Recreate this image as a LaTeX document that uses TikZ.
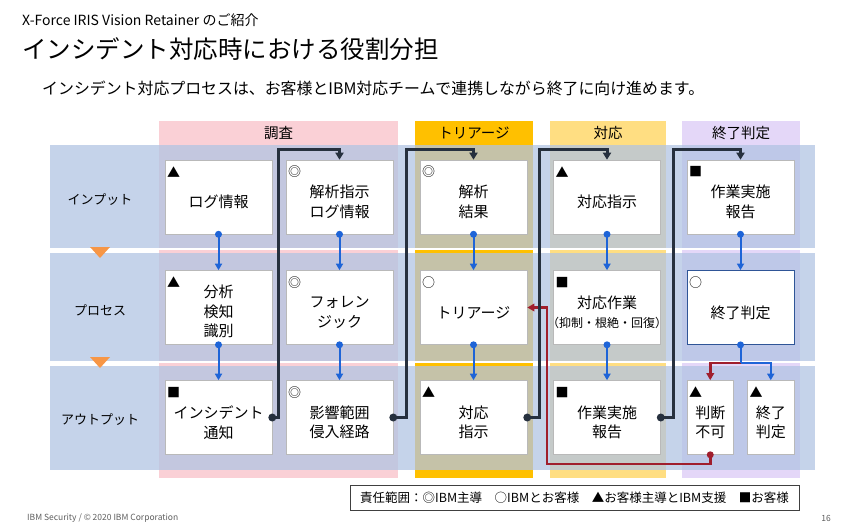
\documentclass[tikz,border=0pt]{standalone}
\usepackage{fontspec}
\setmainfont{Noto Sans CJK JP}
\usetikzlibrary{arrows.meta}
\definecolor{cpink}{RGB}{250,208,214}
\definecolor{cgold}{RGB}{255,192,0}
\definecolor{cyel}{RGB}{255,222,130}
\definecolor{clav}{RGB}{228,215,248}
\definecolor{crow}{RGB}{177,196,227}
\definecolor{cblue}{RGB}{30,100,215}
\definecolor{cdark}{RGB}{38,48,62}
\definecolor{cred}{RGB}{160,30,45}
\definecolor{corange}{RGB}{247,150,70}
\definecolor{cborder}{RGB}{185,185,185}
\definecolor{cnavy}{RGB}{47,85,151}
\definecolor{cfoot}{RGB}{95,95,95}
\begin{document}
\begin{tikzpicture}[x=1pt,y=-1pt,
  box/.style={draw=cborder, line width=0.6pt, fill=white, minimum width=107pt, minimum height=74pt, inner sep=0pt},
  narrowbox/.style={box, minimum width=46.5pt},
  boxtext/.style={align=center, inner sep=0pt, font=\fontsize{15}{19.5}\selectfont},
  boxmark/.style={inner sep=0pt, font=\fontsize{13}{13}\selectfont},
  hdr/.style={inner sep=0pt, font=\fontsize{14.5}{14.5}\selectfont},
  rowlabel/.style={inner sep=0pt, font=\fontsize{13}{13}\selectfont},
  rowband/.style={fill=crow, opacity=0.74},
  bconn/.style={draw=cblue, line width=2pt, -{Triangle[length=6.5pt,width=7pt]}},
  dconn/.style={draw=cdark, line width=3pt, -{Triangle[length=7pt,width=8pt]}},
  rconn/.style={draw=cred, line width=2.5pt, -{Triangle[length=7pt,width=7.5pt]}}
]
\useasboundingbox[fill=white] (0,0) rectangle (854,532);

% titles
\node[anchor=west, inner sep=0pt, font=\fontsize{14}{14}\selectfont] (t1) at (22,20) {X-Force IRIS Vision Retainer のご紹介};
\node[anchor=west, inner sep=0pt, font=\fontsize{24.5}{24.5}\selectfont] (t2) at (22,49) {インシデント対応時における役割分担};
\node[anchor=west, inner sep=0pt, font=\fontsize{15.9}{15.9}\selectfont] (t3) at (42,88) {インシデント対応プロセスは、お客様とIBM対応チームで連携しながら終了に向け進めます。};

% column stripes
\fill[cpink] (159,121) rectangle (398,478);
\fill[cgold] (415,121) rectangle (533,478);
\fill[cyel] (550,121) rectangle (666,478);
\fill[clav] (682,121) rectangle (800,478);
\node[hdr] (h1) at (278.5,133) {調査};
\node[hdr] (h2) at (474,133) {トリアージ};
\node[hdr] (h3) at (608,133) {対応};
\node[hdr] (h4) at (741,133) {終了判定};

% row bands
\fill[rowband] (50,145) rectangle (815,248);
\fill[rowband] (50,253) rectangle (815,361);
\fill[rowband] (50,366) rectangle (815,470);
\fill[white] (50,248) rectangle (815,250);
\fill[white] (50,361) rectangle (815,363);

% row labels
\node[rowlabel] (l1) at (100,200) {インプット};
\node[rowlabel] (l2) at (100,310) {プロセス};
\node[rowlabel] (l3) at (100,420) {アウトプット};
\fill[corange] (90,247) -- (110,247) -- (100,258) -- cycle;
\fill[corange] (90,357) -- (110,357) -- (100,368) -- cycle;

% boxes row 1
\node[box] (b11) at (218.5,197) {};
\node[box] (b12) at (339.5,197) {};
\node[box] (b13) at (473.5,197) {};
\node[box] (b14) at (607,197) {};
\node[box] (b15) at (740.5,197) {};
% boxes row 2
\node[box] (b21) at (218.5,307.5) {};
\node[box] (b22) at (339.5,307.5) {};
\node[box] (b23) at (473.5,307.5) {};
\node[box] (b24) at (607,307.5) {};
\node[box, draw=cnavy, line width=0.8pt] (b25) at (740.5,307.5) {};
% boxes row 3
\node[box] (b31) at (218.5,417.5) {};
\node[box] (b32) at (339.5,417.5) {};
\node[box] (b33) at (473.5,417.5) {};
\node[box] (b34) at (607,417.5) {};
\node[narrowbox] (b35a) at (710.25,417.5) {};
\node[narrowbox] (b35b) at (770.75,417.5) {};

% box texts
\node[boxtext] (x11) at ([yshift=-5pt]b11.center) {ログ情報};
\node[boxtext] (x12) at ([yshift=-5pt]b12.center) {解析指示\\ログ情報};
\node[boxtext] (x13) at ([yshift=-5pt]b13.center) {解析\\結果};
\node[boxtext] (x14) at ([yshift=-5pt]b14.center) {対応指示};
\node[boxtext] (x15) at ([yshift=-5pt]b15.center) {作業実施\\報告};
\node[boxtext] (x21) at ([yshift=-4pt]b21.center) {分析\\検知\\識別};
\node[boxtext] (x22) at ([yshift=-5pt]b22.center) {フォレン\\ジック};
\node[boxtext] (x23) at ([yshift=-5pt]b23.center) {トリアージ};
\node[boxtext] (x24) at ([yshift=-5pt]b24.center) {対応作業\\{\fontsize{12}{15}\selectfont （抑制・根絶・回復）}};
\node[boxtext] (x25) at ([yshift=-5pt]b25.center) {終了判定};
\node[boxtext] (x31) at ([yshift=-5pt]b31.center) {インシデント\\通知};
\node[boxtext] (x32) at ([yshift=-5pt]b32.center) {影響範囲\\侵入経路};
\node[boxtext] (x33) at ([yshift=-5pt]b33.center) {対応\\指示};
\node[boxtext] (x34) at ([yshift=-5pt]b34.center) {作業実施\\報告};
\node[boxtext] (x35a) at ([yshift=-5pt]b35a.center) {判断\\不可};
\node[boxtext] (x35b) at ([yshift=-5pt]b35b.center) {終了\\判定};

% markers
\node[boxmark] (m11) at ([shift={(9,12)}]b11.north west) {▲};
\node[boxmark] (m12) at ([shift={(9,12)}]b12.north west) {◎};
\node[boxmark] (m13) at ([shift={(9,12)}]b13.north west) {◎};
\node[boxmark] (m14) at ([shift={(9,12)}]b14.north west) {▲};
\node[boxmark] (m15) at ([shift={(9,12)}]b15.north west) {■};
\node[boxmark] (m21) at ([shift={(9,12)}]b21.north west) {▲};
\node[boxmark] (m22) at ([shift={(9,12)}]b22.north west) {◎};
\node[boxmark] (m23) at ([shift={(9,12)}]b23.north west) {○};
\node[boxmark] (m24) at ([shift={(9,12)}]b24.north west) {■};
\node[boxmark] (m25) at ([shift={(9,12)}]b25.north west) {○};
\node[boxmark] (m31) at ([shift={(9,12)}]b31.north west) {■};
\node[boxmark] (m32) at ([shift={(9,12)}]b32.north west) {◎};
\node[boxmark] (m33) at ([shift={(9,12)}]b33.north west) {▲};
\node[boxmark] (m34) at ([shift={(9,12)}]b34.north west) {■};
\node[boxmark] (m35a) at ([shift={(9,12)}]b35a.north west) {▲};
\node[boxmark] (m35b) at ([shift={(9,12)}]b35b.north west) {▲};

% blue vertical connectors
\foreach \a/\b in {b11/b21,b21/b31,b12/b22,b22/b32,b13/b23,b23/b33,b14/b24,b24/b34,b15/b25}{
  \draw[bconn] (\a.south) -- (\b.north);
  \fill[cblue] (\a.south) circle (3.5);
}

% split after 終了判定
\coordinate (j1) at (740.5,363);
\draw[rconn] (j1) -| (b35a.north);
\draw[bconn, -] (b25.south) -- (j1);
\draw[bconn] (j1) -| (b35b.north);
\fill[cblue] (b25.south) circle (3.5);

% red feedback connector
\coordinate (r1) at (547,464);
\draw[rconn] (b35a.south) |- (r1) |- (b23.east);
\fill[cred] (b35a.south) circle (3.5);

% dark connectors from outputs to next inputs
\coordinate (k1) at (278,150);
\coordinate (k2) at (406,150);
\coordinate (k3) at (539,150);
\coordinate (k4) at (673,150);
\draw[dconn] (b31.east) -- (b31.east -| k1) -- (k1) -| (b12.north);
\draw[dconn] (b32.east) -- (b32.east -| k2) -- (k2) -| (b13.north);
\draw[dconn] (b33.east) -- (b33.east -| k3) -- (k3) -| (b14.north);
\draw[dconn] (b34.east) -- (b34.east -| k4) -- (k4) -| (b15.north);
\fill[cdark] (b31.east) circle (4);
\fill[cdark] (b32.east) circle (4);
\fill[cdark] (b33.east) circle (4);
\fill[cdark] (b34.east) circle (4);

% legend
\node[draw=black!75, line width=0.7pt, fill=white, minimum width=449pt, minimum height=25pt, inner sep=0pt, font=\fontsize{12.5}{12.5}\selectfont] (lg) at (574.5,497.5) {責任範囲：◎IBM主導　○IBMとお客様　▲お客様主導とIBM支援　■お客様};

% footer
\node[anchor=west, inner sep=0pt, text=cfoot, font=\fontsize{8.5}{8.5}\selectfont] (f1) at (27,518) {IBM Security / © 2020 IBM Corporation};
\node[inner sep=0pt, text=cfoot, font=\fontsize{8.5}{8.5}\selectfont] (f2) at (826,518) {16};
\end{tikzpicture}
\end{document}
